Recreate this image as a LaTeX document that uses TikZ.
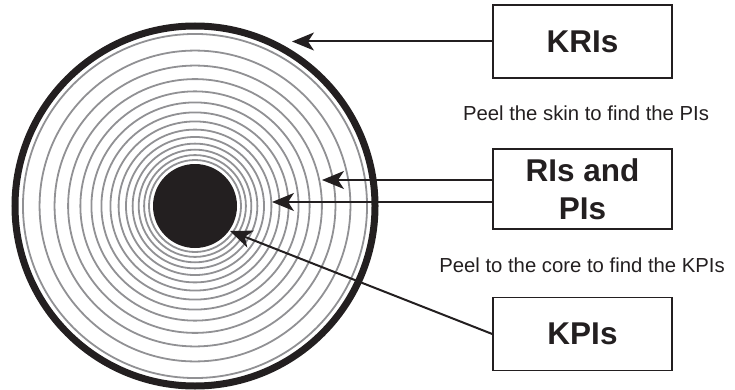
\documentclass[tikz,border=0pt]{standalone}
\usepackage{fontspec}
\setmainfont{Liberation Sans}
\usetikzlibrary{arrows.meta}
\definecolor{ink}{RGB}{35,31,32}
\definecolor{ringgray}{RGB}{145,145,148}
\begin{document}
\begin{tikzpicture}[x=1pt,y=-1pt,
  labelbox/.style={draw=ink, line width=1.5pt, minimum width=179pt, minimum height=73pt, inner sep=0pt, align=center, font=\fontsize{31.5}{38}\selectfont\bfseries, text=ink},
  note/.style={font=\fontsize{20.3}{24}\selectfont, text=ink, inner sep=0pt},
  ringline/.style={draw=ringgray, line width=1.8pt},
  pointer/.style={draw=ink, line width=2pt, -{Stealth[length=22pt,width=18pt,inset=6pt]}}]
\useasboundingbox (0,0) rectangle (735,390);
% rings
\foreach \k in {0,...,13}{
  \draw[ringline] (195,206) circle ({46*1.1068^\k});
}
\draw[draw=ink, line width=7pt] (195,206) circle (180);
\node[circle, fill=ink, minimum size=84pt, inner sep=0pt] (core) at (195,206) {};
% boxes
\node[labelbox] (krib) at (582.5,41.5) {KRIs};
\node[labelbox, minimum height=80pt] (rib) at (582.5,189) {RIs and\\PIs};
\node[labelbox] (kpib) at (582.5,334) {KPIs};
% notes
\node[note] (skin) at (586,113) {Peel the skin to find the PIs};
\node[note] (corenote) at (582,265) {Peel to the core to find the KPIs};
% arrow tips
\coordinate (t1) at (292,41.5);
\coordinate (t2) at (322,180);
\coordinate (t3) at (272,202);
\coordinate (t4) at (230,231);
\draw[pointer] (krib.west) -- (t1);
\draw[pointer] (rib.west |- t2) -- (t2);
\draw[pointer] (rib.west |- t3) -- (t3);
\draw[pointer] (kpib.west) -- (t4);
\end{tikzpicture}
\end{document}
